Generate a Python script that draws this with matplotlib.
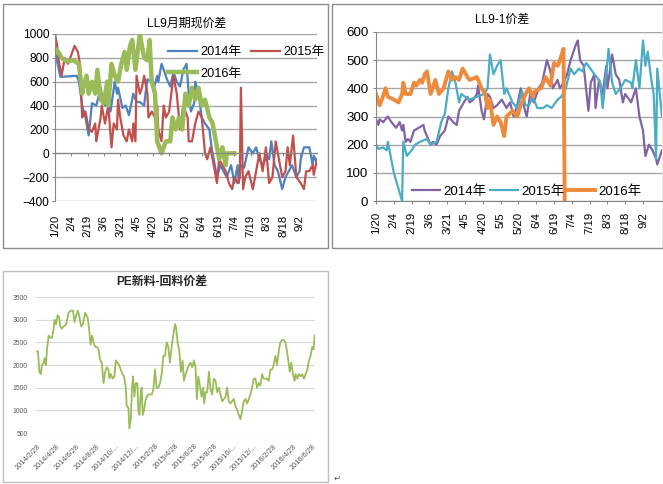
import matplotlib
matplotlib.use('Agg')
import matplotlib.pyplot as plt
import matplotlib.patches as mpatches

plt.rcParams['font.family'] = ['Liberation Sans', 'Noto Sans CJK SC', 'DejaVu Sans']

# ---------------- data ----------------
# chart 1: LL9 basis, x = days after 1/20
date_labels = ['1/20', '2/4', '2/19', '3/6', '3/21', '4/5', '4/20', '5/5',
               '5/20', '6/4', '6/19', '7/4', '7/19', '8/3', '8/18', '9/2']
date_ticks = [15 * i for i in range(len(date_labels))]

basis_2014_day = [0, 5, 20, 22, 25, 28, 31, 34, 38, 42, 43, 46, 48, 51, 55, 57, 58, 62,
                  65, 68, 71, 72, 75, 78, 82, 83, 85, 89, 91, 94, 95, 98, 100, 103, 106,
                  109, 112, 115, 118, 121, 123, 125, 128, 129, 132, 135, 138, 142, 144,
                  146, 149, 152, 155, 158, 162, 165, 168, 169, 171, 174, 178, 182, 185,
                  188, 191, 195, 197, 199, 202, 205, 209, 212, 215, 218, 222, 225, 226,
                  229, 234, 237, 238, 241]
basis_2014 = [850, 640, 650, 600, 400, 300, 150, 420, 400, 550, 500, 400, 450, 350, 600,
              500, 550, 380, 400, 320, 450, 500, 430, 430, 400, 480, 620, 600, 550, 650,
              600, 750, 700, 620, 560, 680, 600, 560, 700, 750, 500, 350, 420, 600, 500,
              300, 250, 200, 50, -50, -200, -100, -150, -200, -100, -250, -100, -250,
              -100, -120, 50, 0, 50, -50, -100, -20, -50, 100, -100, -150, -300, -200,
              -150, -100, -200, -150, -50, 50, 50, -100, -20, -80]

basis_2015_day = [0, 2, 3, 6, 9, 12, 18, 21, 23, 25, 28, 31, 34, 37, 38, 42, 43, 46, 49,
                  52, 54, 57, 58, 60, 63, 66, 68, 71, 72, 74, 75, 78, 80, 82, 85, 86, 89,
                  92, 94, 95, 98, 100, 102, 105, 109, 112, 115, 118, 122, 123, 126, 129,
                  132, 135, 138, 140, 143, 146, 149, 151, 154, 157, 160, 163, 165, 168,
                  170, 171, 173, 175, 178, 182, 185, 188, 191, 194, 197, 200, 203, 206,
                  209, 212, 214, 216, 219, 222, 226, 229, 231, 234, 237, 238, 241]
basis_2015 = [1000, 900, 800, 650, 800, 750, 900, 850, 750, 300, 350, 200, 180, 250, 100,
              300, 400, 250, 400, 50, 250, 200, 450, 300, 150, 100, 200, 100, 250, 100,
              650, 500, 550, 650, 500, 300, 350, 300, 400, 200, 100, 400, 300, 350, 650,
              500, 200, 400, 300, 100, 100, 250, 350, 300, 0, -50, 50, -100, -250, -50,
              -100, -150, -250, -300, -200, -250, -200, 550, -300, -200, -150, -300,
              -150, 0, -150, 50, -250, -200, 100, -50, -200, -150, 50, -100, 150, -200,
              -250, -300, -150, -150, -100, -180, -50]

basis_2016_day = [0, 3, 6, 11, 17, 22, 25, 26, 29, 31, 34, 37, 39, 42, 45, 48, 49, 52,
                  55, 58, 61, 64, 66, 69, 71, 74, 78, 82, 85, 87, 89, 92, 94, 98, 102,
                  106, 108, 111, 114, 117, 120, 123, 126, 129, 132, 135, 138, 142, 145,
                  148, 151, 154, 157, 158, 165]
basis_2016 = [880, 850, 800, 770, 780, 750, 500, 550, 650, 500, 600, 500, 700, 450, 420,
              600, 400, 750, 650, 600, 750, 850, 700, 900, 950, 700, 1000, 800, 780, 950,
              600, 500, 100, 0, 100, 100, 300, 200, 300, 200, 500, 400, 550, 450, 550,
              400, 450, 300, 250, 100, -50, 50, -100, 0, 0]

# chart 2: LL9-1 spread
spread_2014_day = [0, 2, 3, 6, 10, 13, 17, 20, 22, 23, 25, 27, 29, 32, 36, 40, 41, 46, 48,
                   51, 54, 58, 61, 65, 68, 70, 74, 77, 79, 82, 85, 86, 89, 91, 94, 96, 99,
                   102, 106, 110, 113, 116, 119, 122, 125, 127, 130, 133, 137, 140, 144,
                   147, 149, 153, 155, 158, 161, 164, 168, 170, 172, 175, 179, 181, 184,
                   185, 188, 191, 194, 195, 199, 202, 205, 208, 210, 215, 219, 222, 225,
                   227, 230, 233, 236, 237, 241]
spread_2014 = [290, 270, 290, 280, 300, 280, 260, 280, 250, 270, 210, 220, 210, 250, 260,
               270, 250, 200, 210, 200, 230, 250, 300, 280, 270, 320, 350, 370, 350, 360,
               380, 410, 320, 290, 380, 370, 330, 340, 360, 330, 350, 300, 340, 400, 330,
               300, 380, 350, 400, 420, 500, 460, 400, 430, 400, 420, 450, 500, 550, 570,
               500, 480, 320, 420, 450, 330, 430, 380, 480, 400, 520, 450, 430, 350, 380,
               350, 400, 300, 250, 160, 200, 180, 150, 130, 180]

spread_2015_day = [0, 2, 6, 9, 10, 15, 22, 23, 26, 30, 33, 37, 43, 46, 51, 55, 58, 61, 64,
                   67, 70, 72, 75, 79, 85, 91, 94, 96, 99, 102, 105, 108, 110, 115, 119,
                   123, 126, 129, 132, 136, 141, 144, 148, 153, 156, 160, 161, 164, 167,
                   171, 174, 177, 179, 184, 186, 189, 191, 194, 196, 199, 202, 206, 210,
                   215, 216, 219, 222, 225, 227, 229, 232, 234, 236, 237, 241]
spread_2015 = [200, 185, 190, 180, 210, 100, 0, 210, 160, 180, 200, 210, 220, 200, 210,
               280, 310, 400, 460, 420, 350, 380, 370, 360, 370, 380, 400, 520, 450, 480,
               500, 380, 400, 350, 330, 390, 340, 340, 370, 330, 330, 340, 330, 360, 370,
               400, 420, 470, 450, 470, 460, 490, 480, 450, 440, 420, 330, 450, 540, 420,
               380, 400, 430, 420, 400, 500, 400, 570, 480, 530, 430, 380, 150, 470, 300]

spread_2016_day = [0, 3, 5, 8, 10, 15, 19, 22, 23, 25, 29, 32, 34, 37, 39, 41, 43, 46, 50,
                   53, 57, 61, 64, 67, 70, 73, 77, 79, 85, 89, 92, 94, 96, 99, 102, 105,
                   108, 110, 115, 119, 122, 126, 129, 132, 134, 139, 143, 147, 150, 153,
                   155, 158, 159]
spread_2016 = [380, 340, 360, 400, 370, 360, 350, 380, 420, 380, 380, 420, 410, 430, 420,
               450, 460, 380, 430, 380, 400, 460, 430, 440, 430, 470, 440, 430, 440, 400,
               380, 330, 360, 270, 300, 280, 230, 300, 320, 300, 340, 380, 400, 370, 390,
               400, 440, 410, 490, 480, 500, 540, 0]

# chart 3: PE virgin - recycled spread, x = months after 2014/2/28
pe_labels = ['2014/2/28', '2014/4/28', '2014/6/28', '2014/8/28', '2014/10/...',
             '2014/12/...', '2015/2/28', '2015/4/28', '2015/6/28', '2015/8/28',
             '2015/10/...', '2015/12/...', '2016/2/28', '2016/4/28', '2016/6/28']
pe_ticks = [2 * i for i in range(len(pe_labels))]

pe_month = [0.0, 0.1, 0.24, 0.4, 0.5, 0.68, 0.78, 0.9, 1.0, 1.18, 1.35, 1.52, 1.69, 1.79,
            1.93, 2.1, 2.26, 2.36, 2.53, 2.7, 2.97, 3.2, 3.45, 3.65, 3.82, 3.99, 4.16,
            4.32, 4.49, 4.66, 4.9, 5.14, 5.3, 5.44, 5.6, 5.74, 5.91, 6.08, 6.25, 6.42,
            6.59, 6.76, 6.93, 7.09, 7.26, 7.36, 7.5, 7.7, 7.87, 8.0, 8.18, 8.34, 8.51,
            8.68, 8.85, 9.02, 9.12, 9.29, 9.39, 9.53, 9.66, 9.76, 9.9, 10.03, 10.2, 10.3,
            10.41, 10.54, 10.64, 10.74, 10.88, 11.01, 11.15, 11.32, 11.66, 11.82, 11.99,
            12.16, 12.33, 12.5, 12.67, 12.84, 13.0, 13.18, 13.34, 13.51, 13.68, 13.85,
            14.02, 14.12, 14.29, 14.46, 14.63, 14.8, 14.93, 15.1, 15.27, 15.44, 15.61,
            15.78, 15.95, 16.11, 16.25, 16.39, 16.55, 16.72, 16.89, 16.99, 17.13, 17.3,
            17.47, 17.64, 17.8, 17.97, 18.14, 18.31, 18.48, 18.65, 18.82, 18.99, 19.16,
            19.32, 19.49, 19.66, 19.83, 20.0, 20.17, 20.34, 20.51, 20.68, 20.84, 21.01,
            21.18, 21.35, 21.52, 21.69, 21.86, 22.03, 22.2, 22.36, 22.53, 22.7, 22.87,
            23.04, 23.21, 23.38, 23.55, 23.72, 23.89, 24.05, 24.22, 24.39, 24.56, 24.73,
            24.9, 25.07, 25.24, 25.41, 25.57, 25.68, 25.84, 26.01, 26.18, 26.28, 26.45,
            26.62, 26.79, 26.96, 27.13, 27.3, 27.47, 27.64, 27.8, 27.97, 28.11, 28.21]
pe_spread = [2300, 2300, 1850, 1800, 2000, 2050, 2150, 2000, 2300, 2650, 2600, 2600, 2800,
             3000, 2900, 3100, 3050, 2850, 2800, 2850, 2900, 3150, 3200, 3200, 2950, 3100,
             3200, 3050, 2850, 2900, 3150, 3050, 2800, 2450, 2650, 2500, 2400, 2400, 2350,
             2100, 2050, 1600, 1850, 1950, 1900, 1700, 1800, 1700, 1750, 2100, 2050, 2000,
             1900, 1800, 1750, 1500, 1100, 1050, 600, 800, 1500, 1750, 1300, 1600, 1600,
             1000, 900, 1400, 1500, 900, 1000, 1200, 1300, 1350, 1350, 1450, 1900, 1500,
             1500, 1600, 1800, 2200, 2200, 2500, 2400, 2050, 2400, 2650, 2900, 2850, 2500,
             2300, 1850, 2100, 1650, 1800, 1900, 2000, 2050, 1950, 2100, 1950, 1250, 1750,
             1550, 1300, 1500, 1150, 1400, 1400, 1850, 1450, 1350, 1700, 1650, 1400, 1500,
             1350, 1200, 1250, 1300, 1500, 1200, 1150, 1200, 1250, 1100, 1000, 900, 800,
             1000, 1200, 1250, 1150, 1250, 1350, 1500, 1700, 1700, 1500, 1600, 1550, 1800,
             1700, 1700, 1700, 1650, 1900, 1900, 2000, 2200, 2000, 2300, 2500, 2550, 2550,
             2500, 2300, 2050, 1850, 2050, 1800, 1650, 1800, 1700, 1800, 1750, 1800, 1700,
             1800, 1900, 2100, 2200, 2400, 2350, 2650]

W, H = 663, 484


def px_axes(fig, x0, y0, x1, y1):
    """Axes placed by pixel box (top-left origin)"""
    return fig.add_axes([x0 / W, 1 - y1 / H, (x1 - x0) / W, (y1 - y0) / H])


def px_frame(fig, x0, y0, x1, y1, color):
    fig.add_artist(mpatches.Rectangle((x0 / W, 1 - y1 / H), (x1 - x0) / W, (y1 - y0) / H,
                                      transform=fig.transFigure, fill=False,
                                      edgecolor=color, lw=1))


def style_excel_axes(ax, ylim, yticks, xticks, xlabels, zero_axis, ysize):
    ax.set_xlim(0, 241)
    ax.set_ylim(*ylim)
    ax.set_yticks(yticks)
    ax.grid(axis='y', color='#A6A6A6', lw=1)
    ax.set_axisbelow(True)
    for s in ['top', 'right']:
        ax.spines[s].set_visible(False)
    ax.spines['left'].set_color('#868686')
    ax.spines['bottom'].set_color('#868686')
    ax.spines['bottom'].set_position(('data', zero_axis))
    ax.tick_params(axis='y', length=2.5, width=0.8, color='#868686', labelsize=ysize, pad=1.5)
    ax.set_xticks(xticks)
    ax.tick_params(axis='x', length=2.5, width=0.8, color='#868686', labelbottom=False)
    sec = ax.secondary_xaxis('bottom')
    sec.set_xticks(xticks, xlabels, rotation=90)
    sec.tick_params(length=0, labelsize=8.2)
    sec.spines['bottom'].set_visible(False)
    return sec


fig = plt.figure(figsize=(W / 100, H / 100), dpi=100)

# ---- chart 1 ----
px_frame(fig, 3, 4, 328, 248, '#8C8C8C')
ax1 = px_axes(fig, 55, 34, 317, 201)
l14, = ax1.plot(basis_2014_day, basis_2014, color='#4F81BD', lw=1.6)
l15, = ax1.plot(basis_2015_day, basis_2015, color='#C0504D', lw=1.6)
l16, = ax1.plot(basis_2016_day, basis_2016, color='#9BBB59', lw=3.2)
sec1 = style_excel_axes(ax1, (-400, 1000), range(-400, 1001, 200), date_ticks,
                        date_labels, 0, 8.6)
sec1.tick_params(pad=10)
fig.text(187 / W, 1 - 24 / H, 'LL9月期现价差', ha='center', va='center', fontsize=8.6)
ax1.legend([l14, l16, l15], ['2014年', '2016年', '2015年'], ncol=2, loc='upper left',
           bbox_to_anchor=(168 / W, 1 - 46 / H), bbox_transform=fig.transFigure,
           frameon=False, fontsize=9.2, handlelength=2.3, handletextpad=0.25,
           columnspacing=0.7, labelspacing=0.75, borderpad=0, borderaxespad=0)

# ---- chart 2 ----
px_frame(fig, 332, 4, 662.5, 248, '#8C8C8C')
ax2 = px_axes(fig, 376, 32, 662, 201)
m14, = ax2.plot(spread_2014_day, spread_2014, color='#8064A2', lw=1.6)
m15, = ax2.plot(spread_2015_day, spread_2015, color='#4BACC6', lw=1.6)
m16, = ax2.plot(spread_2016_day, spread_2016, color='#EE8A3C', lw=2.8)
sec2 = style_excel_axes(ax2, (0, 600), range(0, 601, 100), date_ticks, date_labels, 0, 9.6)
sec2.tick_params(pad=8)
ax2.tick_params(axis='y', pad=3)
fig.text(502 / W, 1 - 20 / H, 'LL9-1价差', ha='center', va='center', fontsize=8.6)
ax2.legend([m14, m15, m16], ['2014年', '2015年', '2016年'], ncol=3, loc='upper left',
           bbox_to_anchor=(412 / W, 1 - 185 / H), bbox_transform=fig.transFigure,
           frameon=False, fontsize=9.6, handlelength=2.1, handletextpad=0.25,
           columnspacing=0.25, borderpad=0, borderaxespad=0)

# ---- chart 3 ----
px_frame(fig, 3, 271, 328, 482, '#BFBFBF')
ax3 = px_axes(fig, 36, 297, 315, 433)
ax3.plot(pe_month, pe_spread, color='#9BBB59', lw=1.3)
ax3.set_xlim(-0.1, 28.25)
ax3.set_ylim(500, 3500)
ax3.set_yticks(range(500, 3501, 500))
ax3.grid(axis='y', color='#D9D9D9', lw=0.8)
ax3.set_axisbelow(True)
for s in ax3.spines.values():
    s.set_visible(False)
ax3.tick_params(axis='y', length=0, labelsize=4.9, labelcolor='#595959', pad=6)
ax3.set_xticks(pe_ticks, pe_labels, rotation=45, ha='right', rotation_mode='anchor')
ax3.tick_params(axis='x', length=0, labelsize=5.3, labelcolor='#595959', pad=7)
fig.text(162 / W, 1 - 282 / H, 'PE新料-回料价差', ha='center', va='center',
         fontsize=8.6, fontweight='bold', color='#262626')

fig.text(337 / W, 1 - 478 / H, '↵', ha='center', va='center', fontsize=6,
         color='#555555', family=['DejaVu Sans'])

fig.savefig('out.png', dpi=100)
